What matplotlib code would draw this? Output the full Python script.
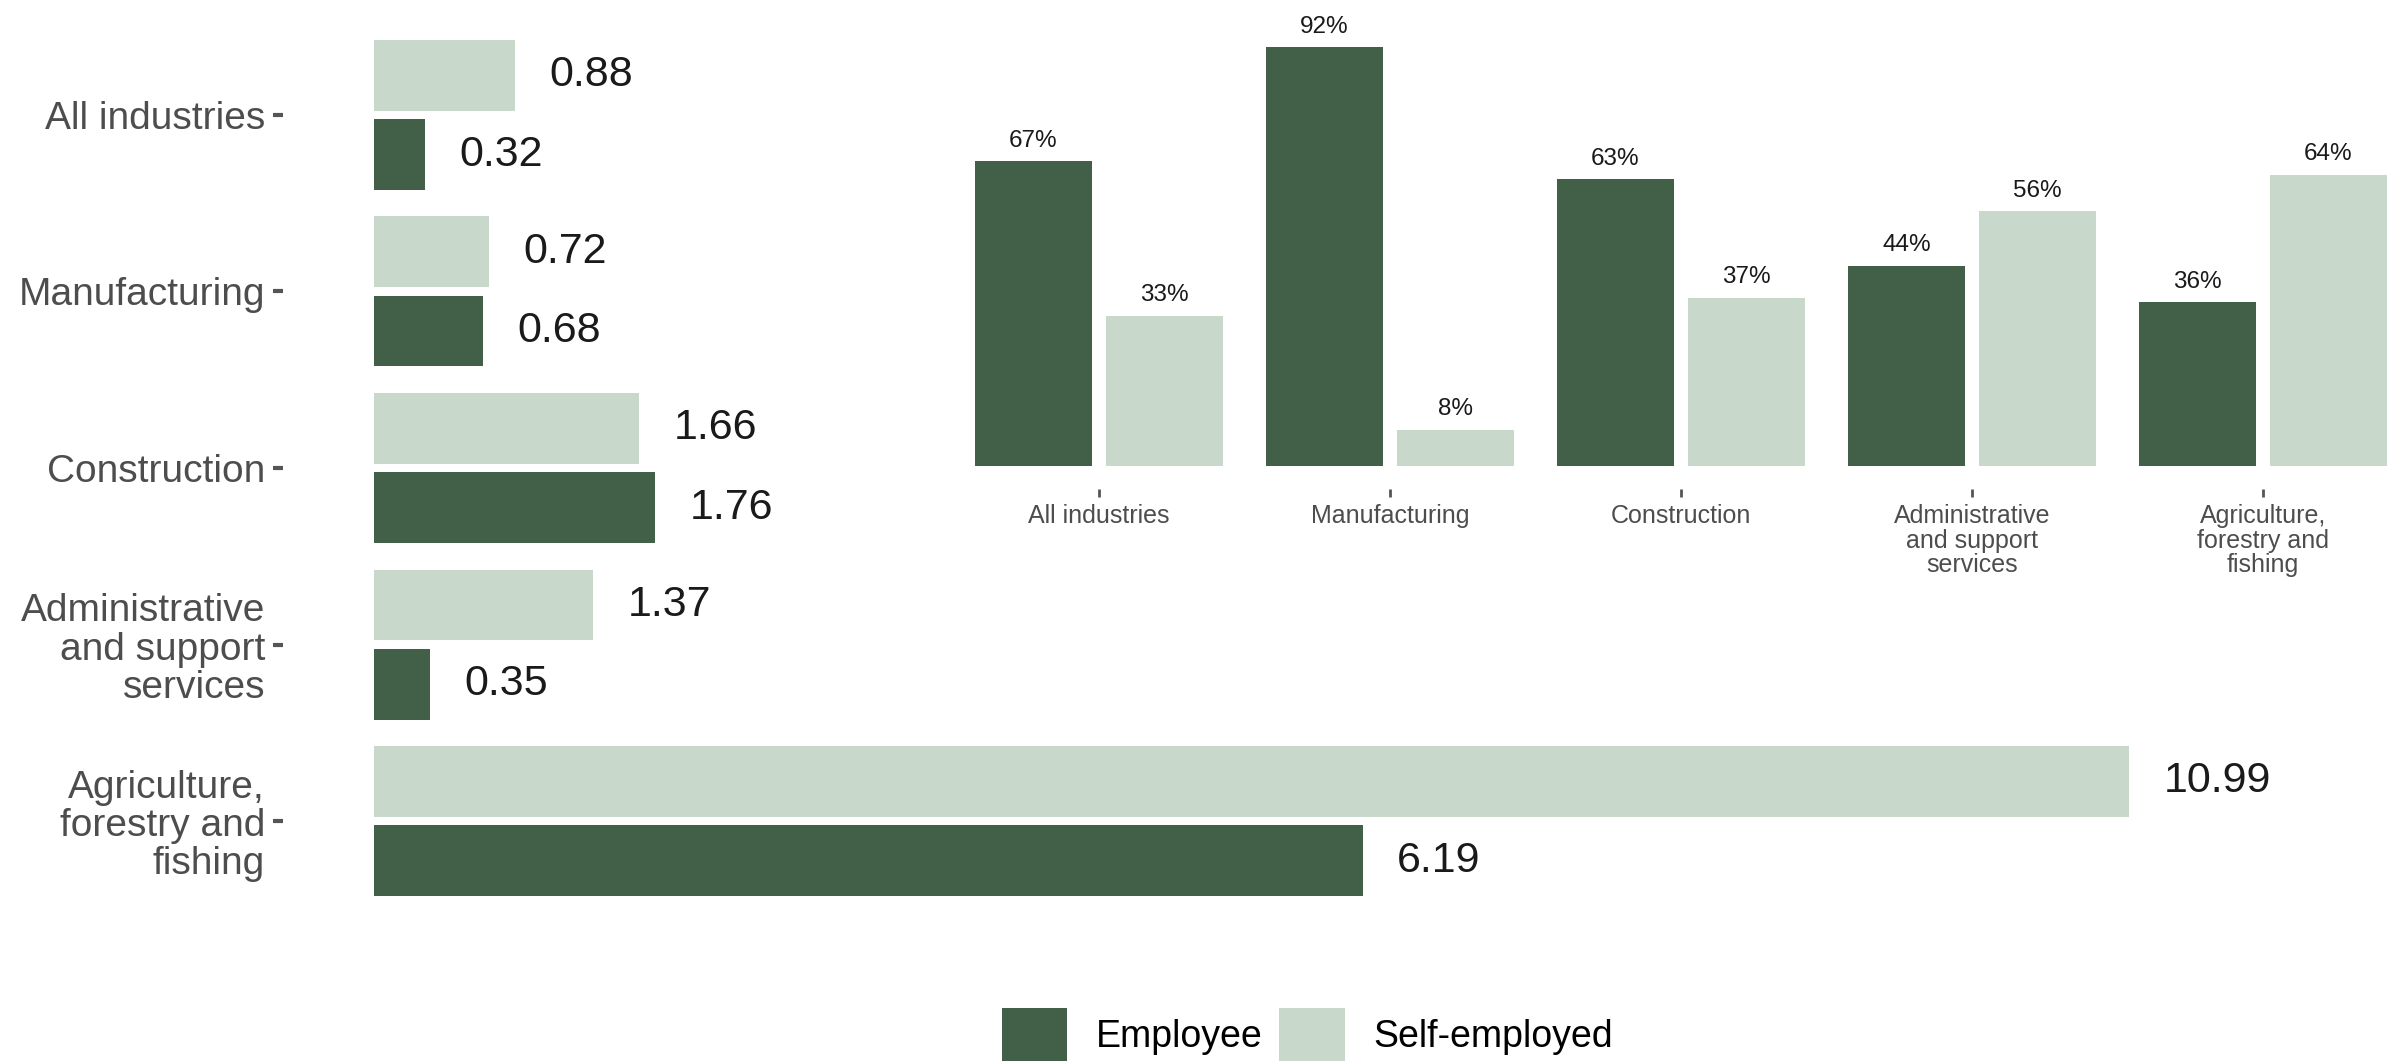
import numpy as np
import matplotlib.pyplot as plt
from matplotlib.patches import Patch

plt.rcParams['font.family'] = ['Liberation Sans', 'DejaVu Sans']

# data
industries = ["All industries", "Manufacturing", "Construction",
              "Administrative\nand support\nservices",
              "Agriculture,\nforestry and\nfishing"]
employee_rate = [0.32, 0.68, 1.76, 0.35, 6.19]
self_emp_rate = [0.88, 0.72, 1.66, 1.37, 10.99]
employee_share = [67, 92, 63, 44, 36]
self_emp_share = [33, 8, 37, 56, 64]

dark = "#426047"
light = "#C8D9CC"
txt_grey = "#4D4D4D"

W, H = 2405, 1061
fig = plt.figure(figsize=(W / 100, H / 100), dpi=100)

def px_axes(left, top, right, bottom):
    return fig.add_axes([left / W, 1 - bottom / H, (right - left) / W, (bottom - top) / H])

# ---- left panel: horizontal bars ----
ax = px_axes(283, 9, W, 927)
y = np.arange(len(industries))
ax.barh(y - 0.225, self_emp_rate, height=0.4, color=light)
ax.barh(y + 0.225, employee_rate, height=0.4, color=dark)
for yy, v in zip(y - 0.225, self_emp_rate):
    ax.annotate(f"{v:.2f}", (v, yy), xytext=(25, 0), textcoords="offset points",
                ha="left", va="center", fontsize=31, color="#1A1A1A")
for yy, v in zip(y + 0.225, employee_rate):
    ax.annotate(f"{v:.2f}", (v, yy), xytext=(25, 0), textcoords="offset points",
                ha="left", va="center", fontsize=31, color="#1A1A1A")
ax.set_xlim(-(374 - 283) / 159.7, (W - 374) / 159.7)
ax.set_ylim(4.6, -0.6)
ax.set_yticks(y)
ax.set_yticklabels(industries, fontsize=28, color=txt_grey, linespacing=1.08)
ax.tick_params(axis="y", length=7, width=3, color="#555555", pad=6)
ax.set_xticks([])
for s in ax.spines.values():
    s.set_visible(False)
ax.patch.set_alpha(0)

# ---- right panel: share bars ----
ax2 = px_axes(975, 11, W, 489)
x = np.arange(len(industries))
ax2.bar(x - 0.225, employee_share, width=0.4, color=dark)
ax2.bar(x + 0.225, self_emp_share, width=0.4, color=light)
for xx, v in zip(x - 0.225, employee_share):
    ax2.annotate(f"{v}%", (xx, v), xytext=(0, 7), textcoords="offset points",
                 ha="center", va="bottom", fontsize=17.5, color="#1A1A1A")
for xx, v in zip(x + 0.225, self_emp_share):
    ax2.annotate(f"{v}%", (xx, v), xytext=(0, 7), textcoords="offset points",
                 ha="center", va="bottom", fontsize=17.5, color="#1A1A1A")
ax2.set_xlim(-0.426, (W - 1099) / 291)
ax2.set_ylim(-5, 100)
ax2.set_xticks(x)
ax2.set_xticklabels(industries, fontsize=18, color=txt_grey, linespacing=1.02)
ax2.tick_params(axis="x", length=6, width=2, color="#555555", pad=5)
ax2.set_yticks([])
for s in ax2.spines.values():
    s.set_visible(False)
ax2.patch.set_alpha(0)

# ---- legend ----
handles = [Patch(facecolor=dark, label="Employee"),
           Patch(facecolor=light, label="Self-employed")]
fig.legend(handles=handles, loc="center left", bbox_to_anchor=(968 / W, 1 - 1035 / H),
           ncol=2, frameon=False, fontsize=27, handlelength=1.75, handleheight=1.85,
           columnspacing=0.45, handletextpad=0.75)

fig.savefig("out.png", dpi=100)
